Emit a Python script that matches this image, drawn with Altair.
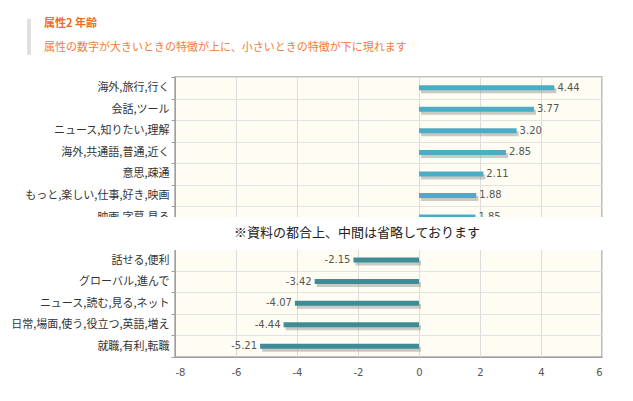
import altair as alt
import pandas as pd

top_labels = ["海外,旅行,行く", "会話,ツール", "ニュース,知りたい,理解", "海外,共通語,普通,近く",
              "意思,疎通", "もっと,楽しい,仕事,好き,映画", "映画,字幕,見る"]
top_values = [4.44, 3.77, 3.20, 2.85, 2.11, 1.88, 1.85]
bottom_labels = ["話せる,便利", "グローバル,進んで", "ニュース,読む,見る,ネット",
                 "日常,場面,使う,役立つ,英語,増え", "就職,有利,転職"]
bottom_values = [-2.15, -3.42, -4.07, -4.44, -5.21]
gap_label = " "
x_ticks = [-8, -6, -4, -2, 0, 2, 4, 6]

title_text = "属性2 年齢"
subtitle_text = "属性の数字が大きいときの特徴が上に、小さいときの特徴が下に現れます"
note_text = "※資料の都合上、中間は省略しております"

W, H = 427, 280
row_order = top_labels + [gap_label] + bottom_labels

top_df = pd.DataFrame({"label": top_labels, "value": top_values})
bot_df = pd.DataFrame({"label": bottom_labels, "value": bottom_values})
one = pd.DataFrame({"t": [note_text]})
ttl = pd.DataFrame({"t": [title_text]})
sub = pd.DataFrame({"t": [subtitle_text]})

JP = "Noto Sans CJK JP"
NUM = "DejaVu Sans"


def yenc():
    return alt.Y("label:N",
                 scale=alt.Scale(domain=row_order, paddingInner=0, paddingOuter=0),
                 axis=alt.Axis(title=None, tickBand="extent", grid=True, gridColor="#e2e2e2",
                               domainColor="#a0a0a0", tickColor="#a0a0a0", tickSize=4,
                               labelPadding=2, labelFont=JP, labelFontSize=11,
                               labelColor="#333333", zindex=0))


def xenc():
    return alt.X("value:Q", scale=alt.Scale(domain=[-8, 6], nice=False),
                 axis=alt.Axis(title=None, values=x_ticks, grid=True,
                               labelExpr="replace(format(datum.value, 'd'), '\u2212', '-')",
                               gridColor="#dcdcdc", ticks=False, domainColor="#a0a0a0",
                               labelPadding=10, labelFont=NUM, labelFontSize=10,
                               labelColor="#555555", zindex=0))


def bars(df, color, align, dx):
    shadow = alt.Chart(df).mark_bar(size=5, color="#8a8a8a", opacity=0.45,
                                    xOffset=2, yOffset=3).encode(x=xenc(), y=yenc())
    bar = alt.Chart(df).mark_bar(size=5, color=color).encode(x=xenc(), y=yenc())
    txt = alt.Chart(df).transform_calculate(
        lbl="replace(format(datum.value, '.2f'), '\u2212', '-')"
    ).mark_text(align=align, dx=dx, font=NUM, fontSize=10, color="#555555").encode(
        x=xenc(), y=yenc(), text="lbl:N")
    return [shadow, bar, txt]


layers = bars(top_df, "#4bacc6", "left", 3) + bars(bot_df, "#3f8c96", "right", -3)

mask = alt.Chart(one).mark_rect(color="white").encode(
    x=alt.value(-110), x2=alt.value(W + 8), y=alt.value(140), y2=alt.value(173))
note = alt.Chart(one).mark_text(font=JP, fontSize=13, color="#222222",
                                baseline="middle").encode(
    x=alt.value(182), y=alt.value(156), text="t:N")
bar_deco = alt.Chart(one).mark_rule(color="#e0e0e0", strokeWidth=4).encode(
    x=alt.value(-146), y=alt.value(-58), y2=alt.value(-22))
title = alt.Chart(ttl).mark_text(font=JP, fontSize=11, fontWeight="bold", color="#f26b1d",
                                 align="left", baseline="middle").encode(
    x=alt.value(-131), y=alt.value(-53), text="t:N")
subtitle = alt.Chart(sub).mark_text(font=JP, fontSize=11, color="#f07c3c",
                                    align="left", baseline="middle").encode(
    x=alt.value(-131), y=alt.value(-29), text="t:N")

chart = alt.layer(*layers, mask, note, bar_deco, title, subtitle).properties(
    width=W, height=H,
    padding={"left": 2, "top": 9, "right": 5, "bottom": 5},
).configure_view(stroke="#a8a8a8", strokeWidth=1.5, fill="#fffdf3")

chart.save("out.html", embed_options={"renderer": "svg", "actions": False})
